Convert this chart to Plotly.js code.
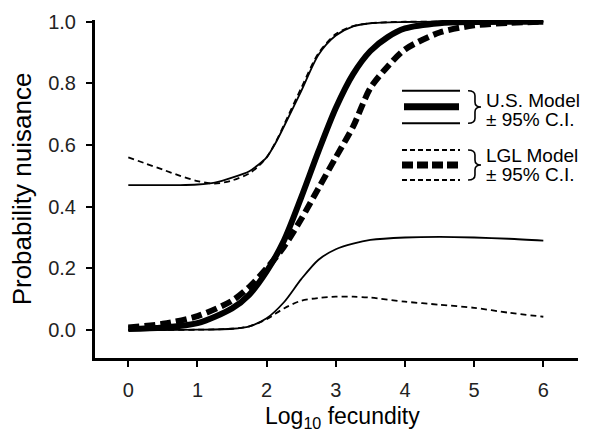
<!DOCTYPE html>
<html>
<head>
<meta charset="utf-8">
<script src="https://cdn.plot.ly/plotly-3.0.1.min.js"></script>
<style>html,body{margin:0;padding:0;background:#fff;}#chart{width:592px;height:433px;}</style>
</head>
<body>
<div id="chart"></div>
<script>
// ---- data ----
const xUS = [0, 0.5, 1, 1.5, 1.75, 2, 2.25, 2.5, 2.75, 3, 3.25, 3.5, 3.75, 4, 4.5, 5, 5.5, 6];
const usModel = [0.003, 0.008, 0.022, 0.07, 0.115, 0.19, 0.29, 0.43, 0.58, 0.72, 0.83, 0.905, 0.95, 0.978, 0.995, 0.999, 1.0, 1.0];
const lglModel = [0.008, 0.02, 0.045, 0.095, 0.14, 0.20, 0.27, 0.36, 0.46, 0.56, 0.66, 0.785, 0.855, 0.91, 0.965, 0.988, 0.996, 1.0];

const xUpper = [0, 0.25, 0.5, 0.75, 1, 1.25, 1.5, 1.75, 1.875, 2, 2.125, 2.25, 2.5, 2.75, 3, 3.25, 3.5, 4, 4.5, 5, 5.5, 6];
const usUpper = [0.47, 0.47, 0.47, 0.47, 0.472, 0.478, 0.494, 0.515, 0.535, 0.56, 0.605, 0.66, 0.775, 0.893, 0.955, 0.985, 0.995, 0.999, 1.0, 1.0, 1.0, 1.0];
const lglUpper = [0.56, 0.54, 0.52, 0.50, 0.483, 0.475, 0.485, 0.508, 0.53, 0.56, 0.607, 0.665, 0.785, 0.898, 0.96, 0.986, 0.995, 1.0, 1.0, 1.0, 1.0, 1.0];

const xLower = [0, 0.5, 1, 1.5, 1.75, 2, 2.25, 2.5, 2.75, 3, 3.25, 3.5, 4, 4.5, 5, 5.5, 6];
const usLower = [0, 0, 0.001, 0.004, 0.012, 0.038, 0.09, 0.165, 0.228, 0.262, 0.28, 0.292, 0.30, 0.302, 0.30, 0.296, 0.29];
const lglLower = [0, 0, 0.001, 0.004, 0.012, 0.035, 0.07, 0.095, 0.104, 0.108, 0.108, 0.105, 0.092, 0.082, 0.072, 0.056, 0.043];

const xTicks = [0, 1, 2, 3, 4, 5, 6];
const yTicks = [0, 0.2, 0.4, 0.6, 0.8, 1.0];
const legendLabels = ['U.S. Model', '\u00B1 95% C.I.', 'LGL Model', '\u00B1 95% C.I.'];
const xTitle = 'Log<sub>10</sub> fecundity';
const yTitle = 'Probability nuisance';

// ---- layout geometry ----
const M = {l: 95, r: 14, t: 20, b: 75};
const PW = 592 - M.l - M.r, PH = 433 - M.t - M.b;
const px = v => (v - M.l) / PW;
const py = v => (433 - M.b - v) / PH;

const FONT = 'Liberation Sans, Arial, sans-serif';

function line(x, y, w, dash, name) {
  return {x: x, y: y, type: 'scatter', mode: 'lines', name: name, showlegend: false,
    line: {color: '#000', width: w, dash: dash, shape: 'spline', smoothing: 0.8}, hoverinfo: 'skip'};
}

const traces = [
  line(xUpper, usUpper, 1.8, 'solid', 'US upper'),
  line(xUpper, lglUpper, 1.8, '6px,4px', 'LGL upper'),
  line(xLower, usLower, 1.8, 'solid', 'US lower'),
  line(xLower, lglLower, 1.8, '6px,4px', 'LGL lower'),
  line(xUS, usModel, 6, 'solid', 'U.S. Model'),
  line(xUS, lglModel, 6, '11px,5px', 'LGL Model')
];

function hline(x0, x1, y, w, dash) {
  return {type: 'line', xref: 'paper', yref: 'paper', x0: px(x0), x1: px(x1), y0: py(y), y1: py(y),
    line: {color: '#000', width: w, dash: dash}};
}
function brace(x0, xm, xt, yTop, yBot) {
  const ym = (yTop + yBot) / 2;
  const P = (a, b) => px(a).toFixed(4) + ',' + py(b).toFixed(4);
  const d = 'M ' + P(x0, yTop) + ' Q ' + P(xm, yTop) + ' ' + P(xm, yTop + 5) +
    ' L ' + P(xm, ym - 5) + ' Q ' + P(xm, ym) + ' ' + P(xt, ym) +
    ' Q ' + P(xm, ym) + ' ' + P(xm, ym + 5) +
    ' L ' + P(xm, yBot - 5) + ' Q ' + P(xm, yBot) + ' ' + P(x0, yBot);
  return {type: 'path', xref: 'paper', yref: 'paper', path: d, line: {color: '#000', width: 1.6}};
}

const shapes = [
  hline(402, 460, 90.7, 2, 'solid'),
  hline(404, 459, 106.7, 7, 'solid'),
  hline(402, 460, 123.3, 2, 'solid'),
  hline(402, 460, 150, 2, '5px,3px'),
  hline(402, 460, 165, 7, '11px,4px'),
  hline(402, 460, 180, 2, '5px,3px'),
  brace(468, 475, 481, 90.7, 123.3),
  brace(468, 475, 481, 150, 180)
];

function label(text, x, y) {
  return {xref: 'paper', yref: 'paper', x: px(x), y: py(y), xanchor: 'left', yanchor: 'middle',
    text: text, showarrow: false, font: {family: FONT, size: 19, color: '#000'}};
}
const annotations = [
  label(legendLabels[0], 484, 100),
  label(legendLabels[1], 484, 119),
  label(legendLabels[2], 484, 155),
  label(legendLabels[3], 484, 174),
  {xref: 'paper', yref: 'paper', x: px(342), y: py(433), xanchor: 'center', yanchor: 'bottom',
   text: xTitle, showarrow: false, borderpad: 0, font: {family: FONT, size: 23, color: '#000'}}
];

const xPerUnit = 69.17, yPerUnit = 308.3;
const x0 = -(128.3 - M.l) / xPerUnit;
const xr = [x0, x0 + PW / xPerUnit];
const y1 = 1 + (21.7 - M.t) / yPerUnit;
const yr = [y1 - PH / yPerUnit, y1];

const layout = {
  width: 592, height: 433,
  margin: M,
  paper_bgcolor: '#fff', plot_bgcolor: '#fff',
  showlegend: false,
  font: {family: FONT, size: 20, color: '#000'},
  xaxis: {range: xr, tickvals: xTicks, ticktext: xTicks.map(String), showgrid: false, zeroline: false,
    showline: true, linecolor: '#000', linewidth: 3, ticks: 'outside', ticklen: 6, tickwidth: 2, tickcolor: '#000',
    ticklabelstandoff: 6, tickfont: {family: FONT, size: 20, color: '#222'}},
  yaxis: {range: yr, tickvals: yTicks, ticktext: yTicks.map(v => v.toFixed(1)), showgrid: false, zeroline: false,
    showline: true, linecolor: '#000', linewidth: 3, ticks: 'outside', ticklen: 6, tickwidth: 2, tickcolor: '#000',
    ticklabelstandoff: 6, tickfont: {family: FONT, size: 20, color: '#222'},
    title: {text: yTitle, font: {family: FONT, size: 26, color: '#000'}}},
  shapes: shapes,
  annotations: annotations
};

Plotly.newPlot('chart', traces, layout, {staticPlot: true, displayModeBar: false});
</script>
</body>
</html>
